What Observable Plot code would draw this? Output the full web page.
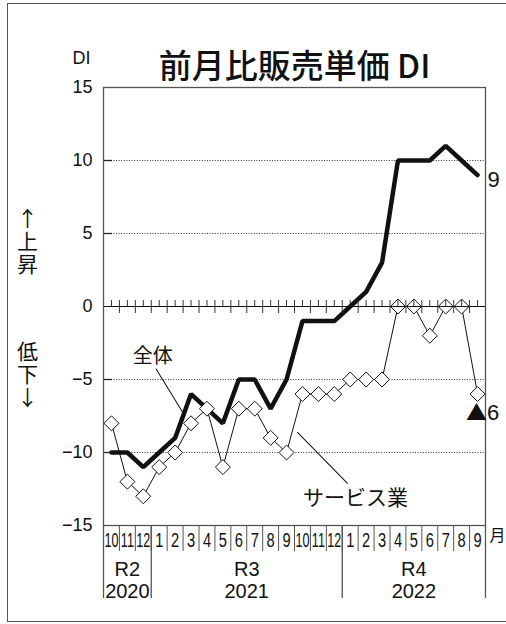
<!DOCTYPE html>
<html><head><meta charset="utf-8">
<script src="https://cdn.jsdelivr.net/npm/d3@7"></script>
<script src="https://cdn.jsdelivr.net/npm/@observablehq/plot@0.6"></script>
<style>
html,body{margin:0;padding:0;background:#fff;overflow:hidden}
#wrap{position:relative;width:506px;height:624px;}
#border{position:absolute;left:7px;top:3px;width:520px;height:619px;border:1.5px solid #555;box-sizing:border-box;}
#wrap svg{position:absolute;left:0;top:0}
</style></head><body><div id="wrap"><div id="border"></div></div>
<script>
const title = "前月比販売単価 DI";
const months = ["10","11","12","1","2","3","4","5","6","7","8","9","10","11","12","1","2","3","4","5","6","7","8","9"];
const overall = [-10,-10,-11,-10,-9,-6,-7,-8,-5,-5,-7,-5,-1,-1,-1,0,1,3,10,10,10,11,10,9];
const service = [-8,-12,-13,-11,-10,-8,-7,-11,-7,-7,-9,-10,-6,-6,-6,-5,-5,-5,0,0,-2,0,0,-6];
const eraLabels = ["R2","R3","R4"];
const eraYears = ["2020","2021","2022"];
const yTicks = [15,10,5,0,-5,-10,-15];
const seriesNames = ["全体","サービス業"];
const sideLabels = ["↑上昇","低下↓"];

const idx = months.map((_, i) => i);
const bounds = idx.slice(1).map(i => i - 0.5);
const eraStarts = idx.filter(i => i === 0 || months[i] === "1");
const eraEnds = [...eraStarts.slice(1), months.length];
const eras = eraLabels.map((label, k) => ({label, year: eraYears[k], mid: (eraStarts[k] + eraEnds[k] - 1) / 2}));
const yearBounds = [-0.5, ...eraStarts.slice(1).map(i => i - 0.5), months.length - 0.5];
const yMin = d3.min(yTicks), yMax = d3.max(yTicks);
const grid = yTicks.filter(t => t !== 0 && t !== yMin && t !== yMax);
const last = months.length - 1;
const fmt = d => d < 0 ? "\u2212" + (-d) : String(d);

const fontLatin = "'Liberation Sans', Arial, sans-serif";
const fontCJK = "'Noto Sans CJK JP', sans-serif";
const leader = {draw(ctx, l) { ctx.moveTo(0, 0); ctx.lineTo(0, -l); }};

const oA = 4, sA = 11;
const overallAnchor = [{x: oA + 0.5, y: (overall[oA] + overall[oA + 1]) / 2}];
const serviceAnchor = [{x: sA + 0.5, y: (service[sA] + service[sA + 1]) / 2}];

const chart = Plot.plot({
  width: 506, height: 624,
  marginTop: 87, marginLeft: 103, marginRight: 21, marginBottom: 99,
  x: {domain: [-0.5, months.length - 0.5], axis: null},
  y: {domain: [yMin, yMax], axis: null},
  style: {fontFamily: fontLatin, color: "#111", background: "transparent", overflow: "visible"},
  marks: [
    Plot.ruleY(grid, {stroke: "#333", strokeWidth: 1, strokeDasharray: "1,1.6"}),
    Plot.tickY(grid, {y: d => d, insetRight: 373, stroke: "#222", strokeWidth: 1.3}),
    Plot.axisY(yTicks, {tickSize: 0, tickPadding: 11, fontSize: 18, tickFormat: fmt, fill: "#111", label: null}),
    // separators below the frame
    Plot.ruleX(bounds, {x: d => d, y1: yMin, y2: yMin, insetBottom: -26, stroke: "#555", strokeWidth: 1}),
    Plot.ruleX(yearBounds, {x: d => d, y1: yMin, y2: yMin, insetBottom: -73, stroke: "#555", strokeWidth: 1.3}),
    Plot.text(months, {x: (d, i) => i, text: d => d, frameAnchor: "bottom", dy: 21, fontSize: 21, fill: "#111", ariaDescription: "month-labels"}),
    Plot.text(eras, {x: "mid", text: "label", frameAnchor: "bottom", dy: 50, fontSize: 20, fill: "#111"}),
    Plot.text(eras, {x: "mid", text: "year", frameAnchor: "bottom", dy: 72, fontSize: 20, fill: "#111"}),
    Plot.text(["月"], {frameAnchor: "bottom-right", textAnchor: "start", dx: 4, dy: 15, fontSize: 16, fontFamily: fontCJK, fill: "#111"}),
    // series
    Plot.line(overall, {x: (d, i) => i, y: d => d, stroke: "#111", strokeWidth: 4.5, strokeLinejoin: "miter"}),
    Plot.line(service, {x: (d, i) => i, y: d => d, stroke: "#111", strokeWidth: 1}),
    Plot.dot(service, {x: (d, i) => i, y: d => d, symbol: "diamond2", r: 6.75, fill: "white", stroke: "#111", strokeWidth: 1}),
    // zero line and its ticks
    Plot.ruleY([0], {stroke: "#111", strokeWidth: 1.2}),
    Plot.ruleX(bounds, {x: d => d, y1: 0, y2: 0, insetTop: -6, insetBottom: -7, stroke: "#333", strokeWidth: 1}),
    Plot.ruleX(idx, {x: d => d, y1: 0, y2: 0, insetTop: -6, insetBottom: 0, stroke: "#333", strokeWidth: 1}),
    Plot.frame({stroke: "#555", strokeWidth: 1.3}),
    // annotations
    Plot.vector(overallAnchor, {x: "x", y: "y", dy: -3, length: 51.6, rotate: -31.5, anchor: "start", shape: leader, stroke: "#111", strokeWidth: 1}),
    Plot.text(overallAnchor, {x: "x", y: "y", text: () => seriesNames[0], dx: -30.4, dy: -59.5, fontSize: 20, fontFamily: fontCJK, fill: "#111"}),
    Plot.vector(serviceAnchor, {x: "x", y: "y", dx: 3, dy: 9, length: 71.4, rotate: 135.6, anchor: "start", shape: leader, stroke: "#111", strokeWidth: 1}),
    Plot.text(serviceAnchor, {x: "x", y: "y", text: () => seriesNames[1], dx: 61, dy: 74.7, fontSize: 21, fontFamily: fontCJK, fill: "#111"}),
    Plot.text([overall[last]], {x: () => last, y: d => d, text: d => String(d), textAnchor: "start", dx: 10, dy: 5, fontSize: 22, fill: "#111"}),
    Plot.text([service[last]], {x: () => last, y: d => d, text: () => "▲", textAnchor: "end", dx: 9.5, dy: 19, fontSize: 21, fontFamily: fontCJK, fill: "#111"}),
    Plot.text([service[last]], {x: () => last, y: d => d, text: d => String(-d), textAnchor: "start", dx: 9.5, dy: 19, fontSize: 22, fill: "#111"}),
    // titles and side labels
    Plot.text([title], {frameAnchor: "top", dy: -33, fontSize: 33, fontFamily: fontCJK, fontWeight: 500, fill: "#111"}),
    Plot.text(["DI"], {frameAnchor: "top-left", textAnchor: "start", dx: -31, dy: -36, fontSize: 18, fill: "#111"}),
    Plot.text([sideLabels[0]], {frameAnchor: "left", textAnchor: "start", dx: -76, dy: -99, fontSize: 21, fontFamily: fontCJK, fill: "#111", ariaDescription: "side-label"}),
    Plot.text([sideLabels[1]], {frameAnchor: "left", textAnchor: "start", dx: -76, dy: 34, fontSize: 21, fontFamily: fontCJK, fill: "#111", ariaDescription: "side-label"})
  ]
});

// condense month digits horizontally so they fit their narrow cells
function scaleX(el, s) {
  const t = el.getAttribute("transform");
  if (t) {
    el.setAttribute("transform", t + ` scale(${s},1)`);
  } else {
    const x = +el.getAttribute("x") || 0, y = +el.getAttribute("y") || 0;
    el.removeAttribute("x"); el.removeAttribute("y");
    el.setAttribute("transform", `translate(${x},${y}) scale(${s},1)`);
  }
}
const mg = chart.querySelector('g[aria-description="month-labels"]');
if (mg) mg.querySelectorAll(":scope > text").forEach(el => scaleX(el, el.textContent.length > 1 ? 0.6 : 0.7));

// vertical side labels (上昇 / 低下)
chart.querySelectorAll('g[aria-description="side-label"] text').forEach(el => {
  const y = el.getAttribute("y");
  if (y && /em$/.test(y)) el.removeAttribute("y");
  const dy = el.getAttribute("dy");
  if (dy && /em$/.test(dy)) el.removeAttribute("dy");
  el.style.writingMode = "vertical-rl";
  el.style.textOrientation = "upright";
  el.style.letterSpacing = "2px";
});
document.getElementById("wrap").appendChild(chart);
</script>
</body></html>
